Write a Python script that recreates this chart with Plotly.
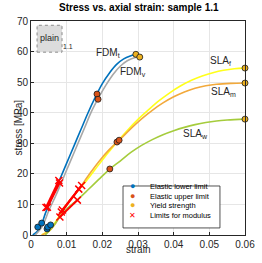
import plotly.graph_objects as go

# ---- data ----
fdm_t_strain = [0.0005, 0.002, 0.003, 0.004, 0.006, 0.008, 0.010, 0.012, 0.014, 0.016, 0.018, 0.020, 0.022, 0.024, 0.026, 0.028, 0.0294]
fdm_t_stress = [0, 1.5, 3.5, 7, 12.5, 18, 23.5, 29, 34.5, 40, 45, 49.5, 53, 55.8, 57.6, 58.6, 59.1]

fdm_v_strain = [0.0012, 0.003, 0.004, 0.005, 0.007, 0.009, 0.011, 0.013, 0.015, 0.017, 0.019, 0.021, 0.023, 0.025, 0.027, 0.029, 0.0305]
fdm_v_stress = [0, 2.5, 5, 8, 13, 18.5, 24, 29.5, 35, 40.5, 45, 49, 52.5, 55.2, 57, 58, 58.2]

sla_f_strain = [0.003, 0.005, 0.007, 0.009, 0.012, 0.015, 0.018, 0.021, 0.024, 0.027, 0.030, 0.033, 0.036, 0.039, 0.042, 0.045, 0.048, 0.051, 0.054, 0.057, 0.060]
sla_f_stress = [0, 1.5, 4.5, 8.5, 12.8, 17, 21.5, 26, 30.3, 34.2, 37.8, 41, 44, 46.6, 48.8, 50.6, 52, 53.1, 53.9, 54.4, 54.6]

sla_m_strain = [0.003, 0.005, 0.007, 0.0085, 0.011, 0.0134, 0.016, 0.019, 0.022, 0.025, 0.028, 0.031, 0.034, 0.037, 0.040, 0.043, 0.046, 0.049, 0.052, 0.056, 0.060]
sla_m_stress = [0, 1.2, 4, 7.2, 11.5, 15, 19.3, 24, 28, 31.3, 34.8, 38, 40.8, 43.2, 45.2, 46.8, 48, 48.8, 49.3, 49.6, 49.7]

sla_w_strain = [0.004, 0.006, 0.008, 0.010, 0.013, 0.016, 0.019, 0.022, 0.025, 0.028, 0.031, 0.034, 0.037, 0.040, 0.043, 0.046, 0.049, 0.052, 0.055, 0.060]
sla_w_stress = [0, 2.5, 5.8, 8.5, 11.5, 14.8, 18.2, 21.5, 24.2, 27, 29.3, 31.2, 32.8, 34.1, 35.2, 36.1, 36.8, 37.3, 37.6, 37.9]

lower_strain = [0.0019, 0.0030, 0.0045, 0.0047, 0.0055]
lower_stress = [2.6, 3.9, 2.0, 2.6, 3.3]

upper_strain = [0.0185, 0.0188, 0.0241, 0.0247, 0.0221]
upper_stress = [46.1, 44.4, 30.4, 31.0, 21.6]

yield_strain = [0.0294, 0.0305, 0.060, 0.060, 0.060]
yield_stress = [59.1, 58.2, 54.6, 49.7, 37.9]

mod_pairs_strain = [[0.0042, 0.0078], [0.0046, 0.0080], [0.0088, 0.0142], [0.0085, 0.0134], [0.0081, 0.0130]]
mod_pairs_stress = [[9.0, 17.8], [9.1, 17.0], [8.2, 16.2], [7.5, 15.0], [5.9, 11.4]]

x_ticks = [0, 0.01, 0.02, 0.03, 0.04, 0.05, 0.06]
x_tick_labels = ["0", "0.01", "0.02", "0.03", "0.04", "0.05", "0.06"]
y_ticks = [0, 10, 20, 30, 40, 50, 60, 70]

legend_labels = ["Elastic lower limit", "Elastic upper limit", "Yield strength", "Limits for modulus"]
legend_symbols = ["●", "●", "●", "✕"]
legend_colors = ["#0072BD", "#D95319", "#EDB120", "#FF0000"]

FONT = "Liberation Sans, Arial, sans-serif"
TXT = "#262626"

fig = go.Figure()

curves = [
    (fdm_t_strain, fdm_t_stress, "#0072BD"),
    (fdm_v_strain, fdm_v_stress, "#A8A8A8"),
    (sla_f_strain, sla_f_stress, "#FFFF1A"),
    (sla_m_strain, sla_m_stress, "#F2A93B"),
    (sla_w_strain, sla_w_stress, "#A5CC3C"),
]
for xs, ys, c in curves:
    fig.add_trace(go.Scatter(x=xs, y=ys, mode="lines", line=dict(color=c, width=1.6, shape="spline"),
                             showlegend=False, hoverinfo="skip"))

for xs, ys in zip(mod_pairs_strain, mod_pairs_stress):
    fig.add_trace(go.Scatter(x=xs, y=ys, mode="lines+markers", line=dict(color="#FF0000", width=2),
                             marker=dict(symbol="x-thin", size=7, color="#FF0000",
                                         line=dict(color="#FF0000", width=1.5)),
                             showlegend=False))

for xs, ys, c in [(lower_strain, lower_stress, "#0072BD"),
                  (upper_strain, upper_stress, "#D95319"),
                  (yield_strain, yield_stress, "#EDB120")]:
    fig.add_trace(go.Scatter(x=xs, y=ys, mode="markers", showlegend=False, cliponaxis=False,
                             marker=dict(symbol="circle", size=6, color=c, line=dict(color="#1a1a1a", width=0.8))))

# "plain" tag box
fig.add_shape(type="rect", xref="x", yref="y", x0=0.0017, x1=0.0087, y0=59.8, y1=68.6,
              fillcolor="#DCDCDC", line=dict(color="#8c8c8c", width=1, dash="dot"))

annots = [
    (0.0052, 64.3, "plain", 9),
    (0.0105, 61.5, "1.1", 7),
    (0.0215, 59.5, "FDM<sub>t</sub>", 10),
    (0.0285, 53.2, "FDM<sub>v</sub>", 10),
    (0.0532, 56.8, "SLA<sub>f</sub>", 10),
    (0.0540, 46.8, "SLA<sub>m</sub>", 10),
    (0.0460, 33.0, "SLA<sub>w</sub>", 10),
]
for x, y, t, s in annots:
    fig.add_annotation(x=x, y=y, xref="x", yref="y", text=t, showarrow=False,
                       font=dict(family=FONT, size=s, color=TXT))

# custom compact legend (matches MATLAB legend spacing)
fig.add_shape(type="rect", xref="paper", yref="paper", x0=0.430, x1=0.883, y0=0.033, y1=0.229,
              fillcolor="white", line=dict(color=TXT, width=0.8), layer="above")
row_y = [0.198, 0.151, 0.106, 0.061]
for lbl, sym, col, yy in zip(legend_labels, legend_symbols, legend_colors, row_y):
    fig.add_annotation(x=0.476, y=yy, xref="paper", yref="paper", text=sym, showarrow=False,
                       font=dict(family=FONT, size=9 if sym == "●" else 8, color=col))
    fig.add_annotation(x=0.545, y=yy, xref="paper", yref="paper", text=lbl, showarrow=False,
                       xanchor="left", font=dict(family=FONT, size=7.5, color="#000000"))

# axis titles
fig.add_annotation(x=-0.098, y=0.5, xref="paper", yref="paper", text="stress [MPa]", showarrow=False,
                   textangle=-90, font=dict(family=FONT, size=10, color=TXT))
fig.add_annotation(x=0.5, y=-0.104, xref="paper", yref="paper", text="strain", showarrow=False,
                   font=dict(family=FONT, size=10, color=TXT))

axis_common = dict(showgrid=True, gridcolor="#E6E6E6", gridwidth=1, showline=True, linecolor=TXT,
                   linewidth=1, mirror=True, ticks="inside", ticklen=3, tickcolor=TXT, automargin=False,
                   tickfont=dict(family=FONT, size=10, color=TXT), zeroline=False)

fig.update_layout(
    width=262, height=263,
    margin=dict(l=31, r=17, t=21, b=28, autoexpand=False),
    paper_bgcolor="white", plot_bgcolor="white",
    showlegend=False,
    title=dict(text="<b>Stress vs. axial strain: sample 1.1</b>", x=0.53, xanchor="center", y=0.985, yanchor="top",
               font=dict(family=FONT, size=10, color="#000000")),
    xaxis=dict(range=[0, 0.06], tickvals=x_ticks, ticktext=x_tick_labels, **axis_common),
    yaxis=dict(range=[0, 70], tickvals=y_ticks, **axis_common),
)

fig.write_html("out.html", config={"displayModeBar": False},
               post_script=("document.body.style.margin='0';document.body.style.padding='0';"
                            "document.documentElement.style.overflow='hidden';window.scrollTo(0,0);"))
